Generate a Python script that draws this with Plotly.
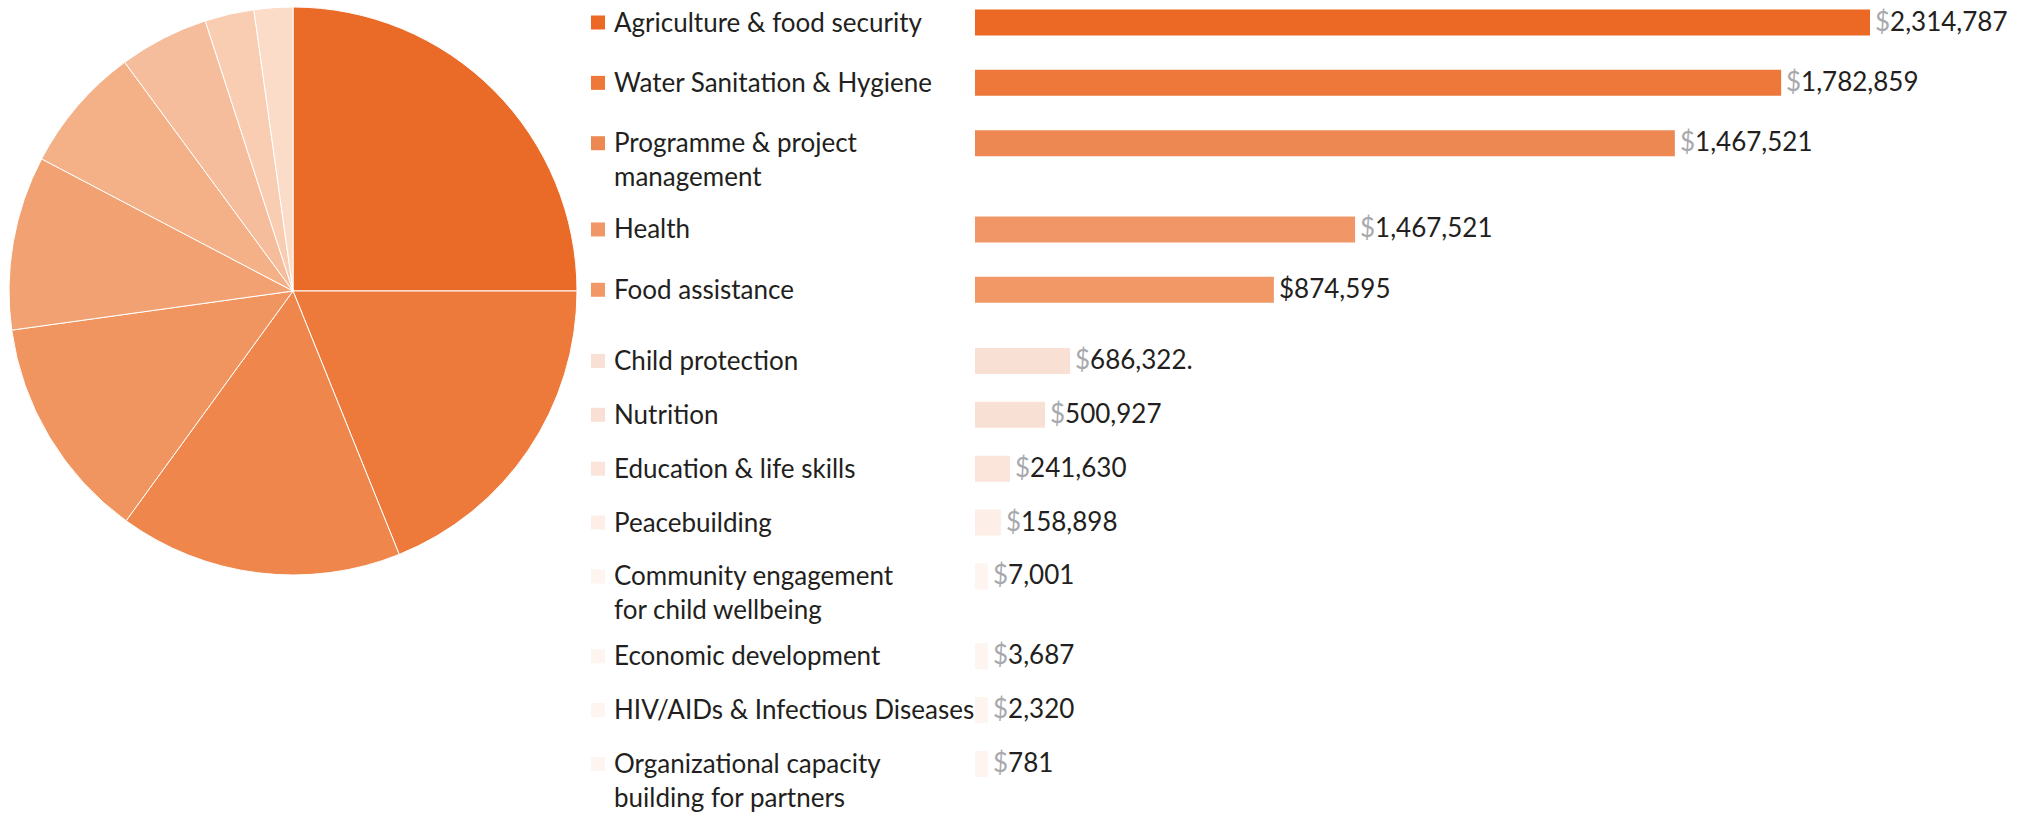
import plotly.graph_objects as go

# ---------------- data ----------------
categories = [
    "Agriculture & food security",
    "Water Sanitation & Hygiene",
    "Programme & project<br>management",
    "Health",
    "Food assistance",
    "Child protection",
    "Nutrition",
    "Education & life skills",
    "Peacebuilding",
    "Community engagement<br>for child wellbeing",
    "Economic development",
    "HIV/AIDs & Infectious Diseases",
    "Organizational capacity<br>building for partners",
]
# amounts printed next to the bars (as written in the reference)
amount_labels = [
    "2,314,787", "1,782,859", "1,467,521", "1,467,521", "874,595",
    "686,322.", "500,927", "241,630", "158,898", "7,001", "3,687", "2,320", "781",
]
# bar lengths as drawn in the reference (USD scale, estimated)
bar_values = [
    2314787, 2085000, 1810000, 983000, 773000,
    246000, 181000, 90500, 67000, 33600, 33600, 33600, 33600,
]
# colour tier of each category (1 = strong orange, 2 = pale)
tiers = [1, 1, 1, 1, 1, 2, 2, 2, 2, 2, 2, 2, 2]
# pie slice shares as drawn (percent)
pie_labels = categories[:9]
pie_shares = [25.0, 18.9, 16.1, 12.8, 9.9, 7.2, 5.1, 2.8, 2.2]

# ---------------- styles / layout ----------------
W, H = 2022, 818
FONT = "Lato"
TEXT = "#231F20"
GREY = "#A7A9AC"
bar_colors = [
    "#EC6825", "#ED783A", "#EE8852", "#F19767", "#F19866",
    "#F9E0D4", "#F9E0D4", "#FBE5DB", "#FDEFE8",
    "#FEF4F0", "#FEF4F0", "#FEF4F0", "#FEF4F0",
]
pie_colors = [
    "#EA6A27", "#ED7A3B", "#EF874C", "#F0955F", "#F2A272",
    "#F4B086", "#F6BD9C", "#F8CDB1", "#FADCC8",
]
dollar_colors = [GREY] * 13
dollar_colors[4] = TEXT

LABEL_SIZE = 26
VALUE_SIZE = 26
ROW_STEP = {1: 1.12, 2: 1.0}  # row pitch per colour tier (in rows)
EXTRA_LINE = 0.48             # extra pitch for each additional text line
TIER_GAP = 0.2                # extra gap between the colour tiers
FIRST_ROW_PX, LAST_ROW_PX = 22.5, 764

# row positions follow the stacking of the labels
row_pos = [0.0]
for i in range(1, len(categories)):
    step = ROW_STEP[tiers[i - 1]] + EXTRA_LINE * categories[i - 1].count("<br>")
    if tiers[i] != tiers[i - 1]:
        step += TIER_GAP
    row_pos.append(row_pos[-1] + step)
span = row_pos[-1]
unit = (LAST_ROW_PX - FIRST_ROW_PX) / span
y_range = [span + (H - LAST_ROW_PX) / unit, -FIRST_ROW_PX / unit]

fig = go.Figure()

fig.add_trace(go.Pie(
    labels=pie_labels, values=pie_shares, sort=False,
    direction="clockwise", rotation=0,
    marker=dict(colors=pie_colors, line=dict(color="#FFFFFF", width=1)),
    textinfo="none", hoverinfo="label+percent", showlegend=False,
    domain=dict(x=[9 / W, 577 / W], y=[1 - 575 / H, 1 - 7 / H]),
))

fig.add_trace(go.Bar(
    x=bar_values, y=row_pos, orientation="h", width=26 / unit,
    marker=dict(color=bar_colors, line=dict(width=0)),
    xaxis="x", yaxis="y", showlegend=False,
    customdata=categories, hovertemplate="%{customdata}<extra></extra>",
))

# legend squares
fig.add_trace(go.Scatter(
    x=[598] * len(categories), y=row_pos, mode="markers",
    marker=dict(symbol="square", size=14, color=bar_colors, line=dict(width=0)),
    xaxis="x2", yaxis="y", showlegend=False, hoverinfo="skip",
))

annotations = []
for cat, amt, val, yp, dc in zip(categories, amount_labels, bar_values, row_pos, dollar_colors):
    annotations.append(dict(
        x=612 / W, xref="paper", xanchor="left",
        y=yp, yref="y", yanchor="top", yshift=19,
        text=cat, showarrow=False, align="left",
        font=dict(family=FONT, size=LABEL_SIZE, color=TEXT),
    ))
    annotations.append(dict(
        x=val, xref="x", xanchor="left", xshift=3,
        y=yp, yref="y", yanchor="middle", yshift=2,
        text=f'<span style="color:{dc}">$</span>{amt}', showarrow=False,
        font=dict(family=FONT, size=VALUE_SIZE, color=TEXT),
    ))

fig.update_layout(
    width=W, height=H,
    margin=dict(l=0, r=0, t=0, b=0),
    paper_bgcolor="white", plot_bgcolor="rgba(0,0,0,0)",
    xaxis=dict(domain=[975 / W, 1870 / W], range=[0, bar_values[0]],
               visible=False, fixedrange=True, anchor="y"),
    xaxis2=dict(domain=[0, 1], range=[0, W], anchor="y",
                visible=False, fixedrange=True),
    yaxis=dict(domain=[0, 1], range=y_range,
               visible=False, fixedrange=True),
    annotations=annotations,
    font=dict(family=FONT, color=TEXT),
)

fig.write_html("out.html")
